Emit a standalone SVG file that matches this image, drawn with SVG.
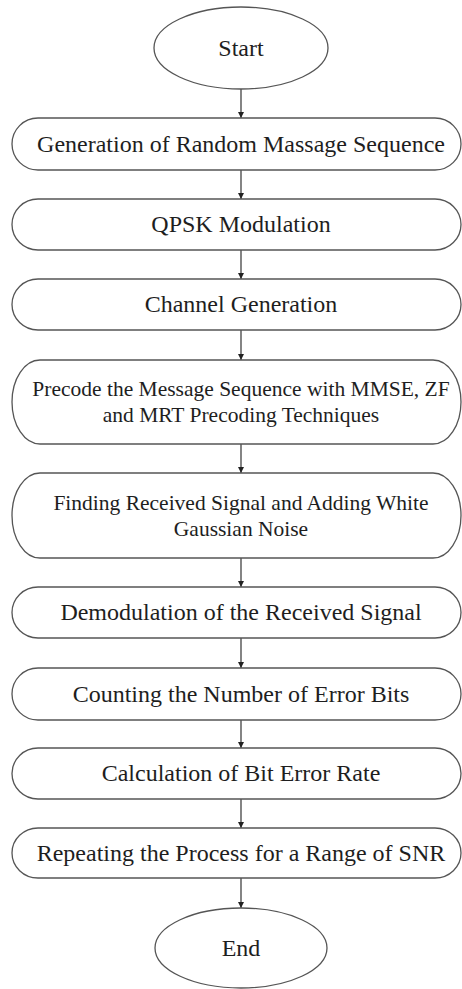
<svg xmlns="http://www.w3.org/2000/svg" width="462" height="989" viewBox="0 0 462 989">
<style>
.n{fill:#fff;stroke:#555;stroke-width:1.3}
.t{font-family:"Liberation Serif","Times New Roman",serif;font-size:24px;fill:#1e1e1e;text-anchor:middle}
.s{font-size:21.5px}
.c line{stroke:#333;stroke-width:1.2}
</style>
<defs>
<marker id="ah" viewBox="0 0 10 10" refX="10" refY="5" markerWidth="6" markerHeight="6" markerUnits="userSpaceOnUse" orient="auto">
<path d="M0,0 L10,5 L0,10 z" fill="#222"/>
</marker>
</defs>
<rect width="462" height="989" fill="#fff"/>
<g class="c">
<line x1="241" y1="89" x2="241" y2="118" marker-end="url(#ah)"/>
<line x1="241" y1="170" x2="241" y2="199" marker-end="url(#ah)"/>
<line x1="241" y1="250" x2="241" y2="279" marker-end="url(#ah)"/>
<line x1="241" y1="330" x2="241" y2="360" marker-end="url(#ah)"/>
<line x1="241" y1="444" x2="241" y2="473" marker-end="url(#ah)"/>
<line x1="241" y1="558" x2="241" y2="587" marker-end="url(#ah)"/>
<line x1="241" y1="638" x2="241" y2="668" marker-end="url(#ah)"/>
<line x1="241" y1="720" x2="241" y2="748" marker-end="url(#ah)"/>
<line x1="241" y1="799" x2="241" y2="828" marker-end="url(#ah)"/>
<line x1="241" y1="878" x2="241" y2="908" marker-end="url(#ah)"/>
</g>
<g id="start"><ellipse class="n" cx="241" cy="48" rx="87" ry="41"/><text class="t" x="241" y="56">Start</text></g>
<g id="gen"><rect class="n" x="12" y="118" width="449" height="52" rx="26" ry="26"/><text class="t" x="241" y="152">Generation of Random Massage Sequence</text></g>
<g id="qpsk"><rect class="n" x="12" y="199" width="449" height="51" rx="26" ry="25.5"/><text class="t" x="241" y="232">QPSK Modulation</text></g>
<g id="chan"><rect class="n" x="12" y="279" width="449" height="51" rx="26" ry="25.5"/><text class="t" x="241" y="312">Channel Generation</text></g>
<g id="precode"><rect class="n" x="12" y="360" width="449" height="84" rx="28" ry="42"/><text class="t s" x="241" y="396">Precode the Message Sequence with MMSE, ZF</text><text class="t s" x="241" y="422">and MRT Precoding Techniques</text></g>
<g id="recv"><rect class="n" x="12" y="473" width="449" height="85" rx="28" ry="42.5"/><text class="t s" x="241" y="510">Finding Received Signal and Adding White</text><text class="t s" x="241" y="536">Gaussian Noise</text></g>
<g id="demod"><rect class="n" x="12" y="587" width="449" height="51" rx="26" ry="25.5"/><text class="t" x="241" y="620">Demodulation of the Received Signal</text></g>
<g id="count"><rect class="n" x="12" y="668" width="449" height="52" rx="26" ry="26"/><text class="t" x="241" y="702">Counting the Number of Error Bits</text></g>
<g id="ber"><rect class="n" x="12" y="748" width="449" height="51" rx="26" ry="25.5"/><text class="t" x="241" y="781">Calculation of Bit Error Rate</text></g>
<g id="repeat"><rect class="n" x="12" y="828" width="449" height="50" rx="26" ry="25"/><text class="t" x="241" y="861">Repeating the Process for a Range of SNR</text></g>
<g id="end"><ellipse class="n" cx="241" cy="948" rx="86" ry="40"/><text class="t" x="241" y="956">End</text></g>
</svg>
